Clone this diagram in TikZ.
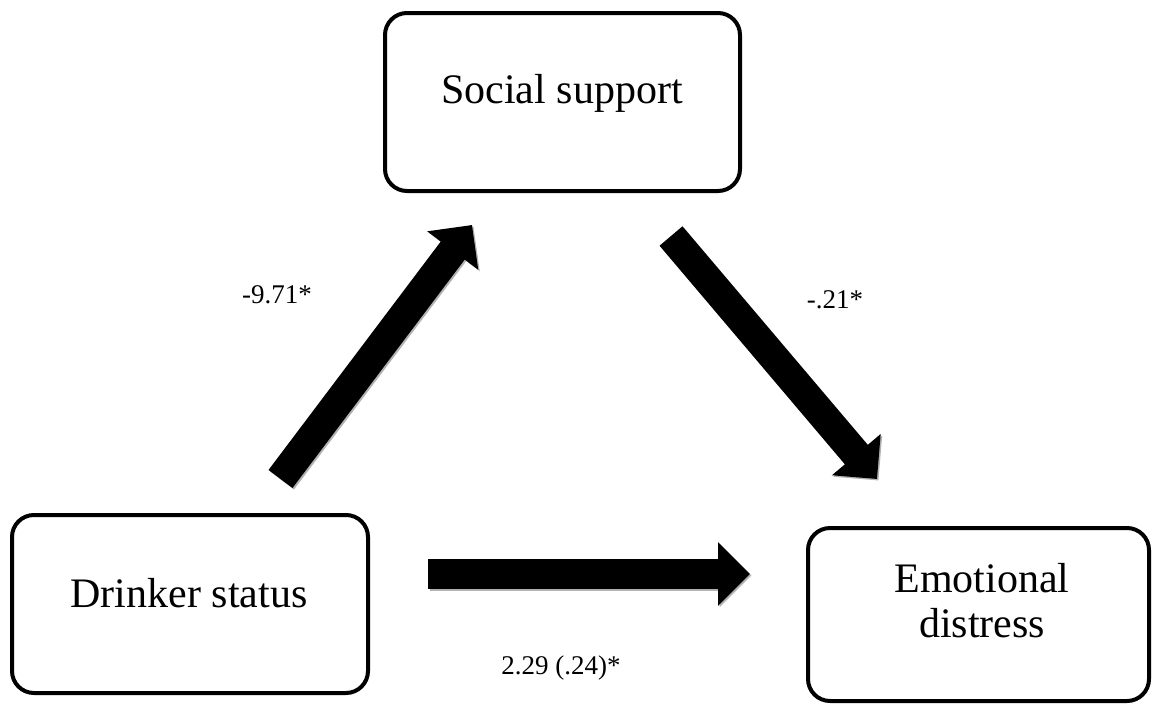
\documentclass[tikz,border=0pt]{standalone}
\usepackage{fontspec}
\setmainfont{Liberation Serif}
\usetikzlibrary{arrows.meta}
\begin{document}
\begin{tikzpicture}[x=1pt,y=-1pt,
  box/.style={draw=black, line width=4pt, rounded corners=22pt, fill=white, inner sep=0pt},
  big/.style={font=\fontsize{42}{45}\selectfont, align=center, inner sep=0pt},
  lab/.style={font=\fontsize{27}{30}\selectfont, inner sep=0pt},
  fat/.style={line width=30pt, -{Triangle[width=62pt,length=32pt]}},
  shade/.style={fat, draw=gray!60, transform canvas={shift={(1.5,1.5)}}}]
\useasboundingbox (0,0) rectangle (1153,704);
% boxes
\node[box, minimum width=355pt, minimum height=178pt] (soc) at (562.5,102) {};
\node[box, minimum width=356pt, minimum height=178pt] (drk) at (190,604) {};
\node[box, minimum width=341pt, minimum height=173pt] (emo) at (978.5,614.5) {};
% box texts
\node[big, anchor=base] (soct) at (562,103) {Social support};
\node[big, anchor=base] (drkt) at (189,607) {Drinker status};
\node[big] (emot) at (982,601) {Emotional\\distress};
% arrow ends
\coordinate (a1s) at (280.5,479); \coordinate (a1e) at (472,225);
\coordinate (a2s) at (671,236);   \coordinate (a2e) at (877,479);
\coordinate (a3s) at (428,574);   \coordinate (a3e) at (750,574);
% arrows with grey edge
\draw[shade] (a1s) -- (a1e);
\draw[shade] (a2s) -- (a2e);
\draw[shade] (a3s) -- (a3e);
\draw[fat] (a1s) -- (a1e);
\draw[fat] (a2s) -- (a2e);
\draw[fat] (a3s) -- (a3e);
% labels
\node[lab] (l1) at (277,295) {-9.71*};
\node[lab] (l2) at (835,300) {-.21*};
\node[lab] (l3) at (561,668) {2.29 (.24)*};
\end{tikzpicture}
\end{document}
